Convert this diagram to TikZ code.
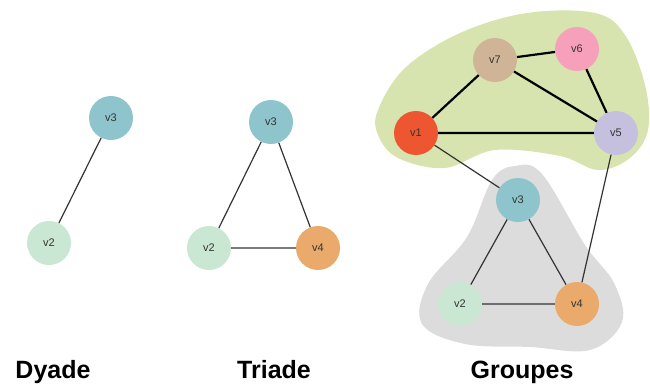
\documentclass[tikz,border=0pt]{standalone}
\usepackage{fontspec}
\setmainfont{Liberation Sans}
\usetikzlibrary{positioning}

\definecolor{cteal}{HTML}{8EC4CC}
\definecolor{cmint}{HTML}{C9E7D3}
\definecolor{corange}{HTML}{E9AA6B}
\definecolor{cred}{HTML}{EE5632}
\definecolor{ctan}{HTML}{CFB497}
\definecolor{cpink}{HTML}{F6A0BC}
\definecolor{clav}{HTML}{C6C0DF}
\definecolor{cgreen}{HTML}{D7E4AF}
\definecolor{cgrey}{HTML}{DCDCDC}

\tikzset{
  vert/.style={circle, fill=#1, minimum size=44pt, inner sep=0pt,
    font=\fontsize{11}{13}\selectfont, text=black!80},
  link/.style={draw=black!80, line width=1.2pt},
  strong/.style={draw=black, line width=2.2pt},
  caption/.style={anchor=base, font=\fontsize{25}{30}\selectfont\bfseries}
}

\begin{document}
\begin{tikzpicture}[x=1pt, y=-1pt, on grid]
 \useasboundingbox (0,0) rectangle (650,383);
 % the two groups
 \fill[cgreen] plot[smooth cycle, tension=0.6] coordinates {
   (378,110) (405,68) (460,33) (527,13) (595,13) (625,35) (645,85)
   (648,130) (630,158) (598,170) (560,156) (495,150) (445,168)
   (398,158) (378,135)};
 \fill[cgrey] plot[smooth cycle, tension=0.6] coordinates {
   (492,180) (515,166) (542,174) (585,245) (614,283) (622,322)
   (590,350) (530,347) (465,344) (422,324) (428,284) (467,237)};

 % dyade
 \node[vert=cmint] (d2) at (49,243) {v2};
 \node[vert=cteal, above right=125pt and 62pt of d2] (d3) {v3};
 \draw[link] (d2) -- (d3);

 % triade
 \node[vert=cmint] (t2) at (209,248) {v2};
 \node[vert=corange, right=109pt of t2] (t4) {v4};
 \node[vert=cteal, above right=126pt and 62pt of t2] (t3) {v3};
 \draw[link] (t2) -- (t3) -- (t4) -- (t2);

 % groupes
 \node[vert=cmint] (g2) at (460,304) {v2};
 \node[vert=corange, right=117pt of g2] (g4) {v4};
 \node[vert=cteal, above right=104pt and 58pt of g2] (g3) {v3};
 \node[vert=cred] (g1) at (416,133) {v1};
 \node[vert=clav, right=200pt of g1] (g5) {v5};
 \node[vert=ctan, above right=73pt and 79pt of g1] (g7) {v7};
 \node[vert=cpink, above right=11pt and 82pt of g7] (g6) {v6};
 \draw[link] (g2) -- (g3) -- (g4) -- (g2);
 \draw[link] (g1) -- (g3);
 \draw[link] (g5) -- (g4);
 \draw[strong] (g1) -- (g7) -- (g6) -- (g5) -- (g1);
 \draw[strong] (g7) -- (g5);

 \node[caption] (lbl1) at (53,378) {Dyade};
 \node[caption] (lbl2) at (274,378) {Triade};
 \node[caption] (lbl3) at (522,378) {Groupes};
\end{tikzpicture}
\end{document}
